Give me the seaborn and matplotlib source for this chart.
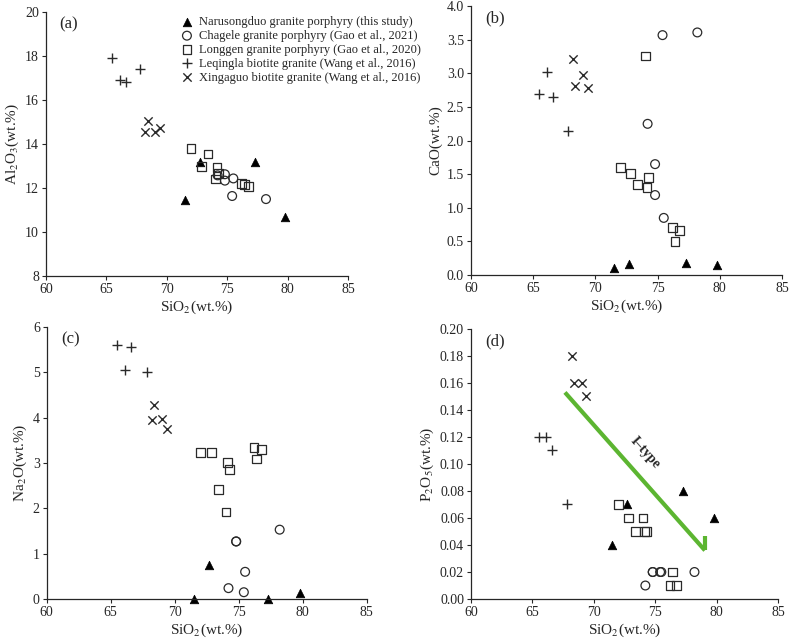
import matplotlib.pyplot as plt
import numpy as np
import pandas as pd
import seaborn as sns

# data
groups = [
    "Narusongduo granite porphyry (this study)",
    "Chagele granite porphyry (Gao et al., 2021)",
    "Longgen granite porphyry (Gao et al., 2020)",
    "Leqingla biotite granite (Wang et al., 2016)",
    "Xingaguo biotite granite (Wang et al., 2016)",
]

sio2_naru = [71.5, 72.7, 77.3, 79.8]
al2o3_naru = [11.45, 13.2, 13.2, 10.7]
cao_naru = [0.10, 0.16, 0.18, 0.15]
na2o_naru = [0.0, 0.74, 0.0, 0.14]
p2o5_naru = [0.04, 0.07, 0.08, 0.06]

sio2_chag = [74.2, 74.8, 74.8, 75.4, 75.5, 78.2]
al2o3_chag = [12.58, 12.63, 12.34, 11.64, 12.44, 11.5]
cao_chag = [2.25, 1.65, 1.19, 3.57, 0.85, 3.61]
na2o_chag = [0.24, 1.27, 1.27, 0.15, 0.60, 1.53]
p2o5_chag = [0.01, 0.02, 0.02, 0.02, 0.02, 0.02]

sio2_long = [72.0, 72.85, 73.4, 74.0, 74.15, 74.3, 76.2, 76.4, 76.75]
al2o3_long = [13.81, 13.0, 13.55, 12.41, 12.93, 12.67, 12.2, 12.17, 12.07]
cao_long = [1.60, 1.51, 1.35, 3.26, 1.30, 1.45, 0.71, 0.50, 0.66]
na2o_long = [3.23, 3.23, 2.42, 1.92, 3.02, 2.86, 3.34, 3.09, 3.29]
p2o5_long = [0.07, 0.06, 0.05, 0.06, 0.05, 0.05, 0.01, 0.02, 0.01]

sio2_leq = [65.5, 66.1, 66.6, 67.8]
al2o3_leq = [17.92, 16.9, 16.84, 17.44]
cao_leq = [2.69, 3.02, 2.65, 2.15]
na2o_leq = [5.61, 5.06, 5.56, 5.01]
p2o5_leq = [0.12, 0.12, 0.11, 0.07]

sio2_xin = [68.2, 68.4, 69.0, 69.4]
al2o3_xin = [14.57, 15.04, 14.57, 14.73]
cao_xin = [3.22, 2.82, 2.98, 2.79]
na2o_xin = [3.94, 4.27, 3.98, 3.76]
p2o5_xin = [0.18, 0.16, 0.16, 0.15]

# I-type trend arrow in panel (d)
arrow_start = (67.65, 0.153)
arrow_end = (79.05, 0.036)

frames = []
for name, si, al, ca, na, p in [
    (groups[0], sio2_naru, al2o3_naru, cao_naru, na2o_naru, p2o5_naru),
    (groups[1], sio2_chag, al2o3_chag, cao_chag, na2o_chag, p2o5_chag),
    (groups[2], sio2_long, al2o3_long, cao_long, na2o_long, p2o5_long),
    (groups[3], sio2_leq, al2o3_leq, cao_leq, na2o_leq, p2o5_leq),
    (groups[4], sio2_xin, al2o3_xin, cao_xin, na2o_xin, p2o5_xin),
]:
    frames.append(pd.DataFrame({"group": name, "SiO2": si, "Al2O3": al,
                                "CaO": ca, "Na2O": na, "P2O5": p}))
df = pd.concat(frames, ignore_index=True)

sns.set_style("ticks")
plt.rcParams["font.family"] = ["Liberation Serif", "DejaVu Serif"]
plt.rcParams["mathtext.fontset"] = "stix"

dark = "#2a2a2a"
styles = {
    groups[0]: dict(marker="^", color="black", edgecolor="black", linewidth=0.5, s=38),
    groups[1]: dict(marker="o", color=dark, facecolor="none", edgecolor=dark, linewidth=0.9, s=40),
    groups[2]: dict(marker="s", color=dark, facecolor="none", edgecolor=dark, linewidth=0.9, s=40),
    groups[3]: dict(marker="+", color=dark, linewidth=1.0, s=45),
    groups[4]: dict(marker="x", color=dark, linewidth=1.0, s=36),
}

fig = plt.figure(figsize=(7.89, 6.43), dpi=100)
panels = [
    ("Al2O3", r"Al$_2$O$_3$(wt.%)", [0.0583, 0.5708, 0.383, 0.410], (8, 20), np.arange(8, 21, 2), "%d", "(a)"),
    ("CaO", "CaO(wt.%)", [0.597, 0.5723, 0.394, 0.418], (0, 4), np.arange(0, 4.01, 0.5), "%.1f", "(b)"),
    ("Na2O", r"Na$_2$O(wt.%)", [0.0592, 0.0684, 0.4056, 0.423], (0, 6), np.arange(0, 7, 1), "%d", "(c)"),
    ("P2O5", r"P$_2$O$_5$(wt.%)", [0.597, 0.0684, 0.389, 0.420], (0, 0.2), np.arange(0, 0.201, 0.02), "%.2f", "(d)"),
]

axes = []
for col, ylab, rect, ylim, yticks, fmt, tag in panels:
    ax = fig.add_axes(rect)
    for g in groups:
        sub = df[df["group"] == g]
        sns.scatterplot(data=sub, x="SiO2", y=col, ax=ax, label=g, **styles[g])
    ax.set_xlim(60, 85)
    ax.set_ylim(*ylim)
    ax.set_xticks(np.arange(60, 86, 5))
    ax.set_yticks(yticks)
    ax.set_yticklabels([fmt % v for v in yticks])
    ax.set_xlabel(r"SiO$_2$(wt.%)", fontsize=11, labelpad=2)
    ax.set_ylabel(ylab, fontsize=11, labelpad=3)
    ax.tick_params(direction="out", length=3, width=0.8, labelsize=10, pad=2)
    for sp in ["left", "bottom"]:
        ax.spines[sp].set_linewidth(0.9)
    sns.despine(ax=ax)
    ax.text(0.045, 0.955, tag, transform=ax.transAxes, fontsize=12, va="center", ha="left")
    ax.get_legend().remove()
    for c in ax.collections:
        c.set_clip_on(False)
    axes.append(ax)

handles, labels = axes[0].get_legend_handles_labels()
fig.legend(handles, labels, loc="upper left", bbox_to_anchor=(0.229, 0.975),
           frameon=False, fontsize=9, handlelength=1.0, handletextpad=0.5,
           labelspacing=0.15, borderpad=0, borderaxespad=0)

ax = axes[3]
ax.plot([arrow_start[0], arrow_end[0]], [arrow_start[1], arrow_end[1]],
        color="#5cb531", linewidth=3, solid_capstyle="butt")
ax.plot([arrow_end[0], arrow_end[0]], [arrow_end[1], arrow_end[1] + 0.011],
        color="#5cb531", linewidth=3, solid_capstyle="butt")
ax.text(74.15, 0.108, "I–type", rotation=-48, fontsize=10, fontweight="bold",
        ha="center", va="center")

plt.savefig("out.png", dpi=100)
